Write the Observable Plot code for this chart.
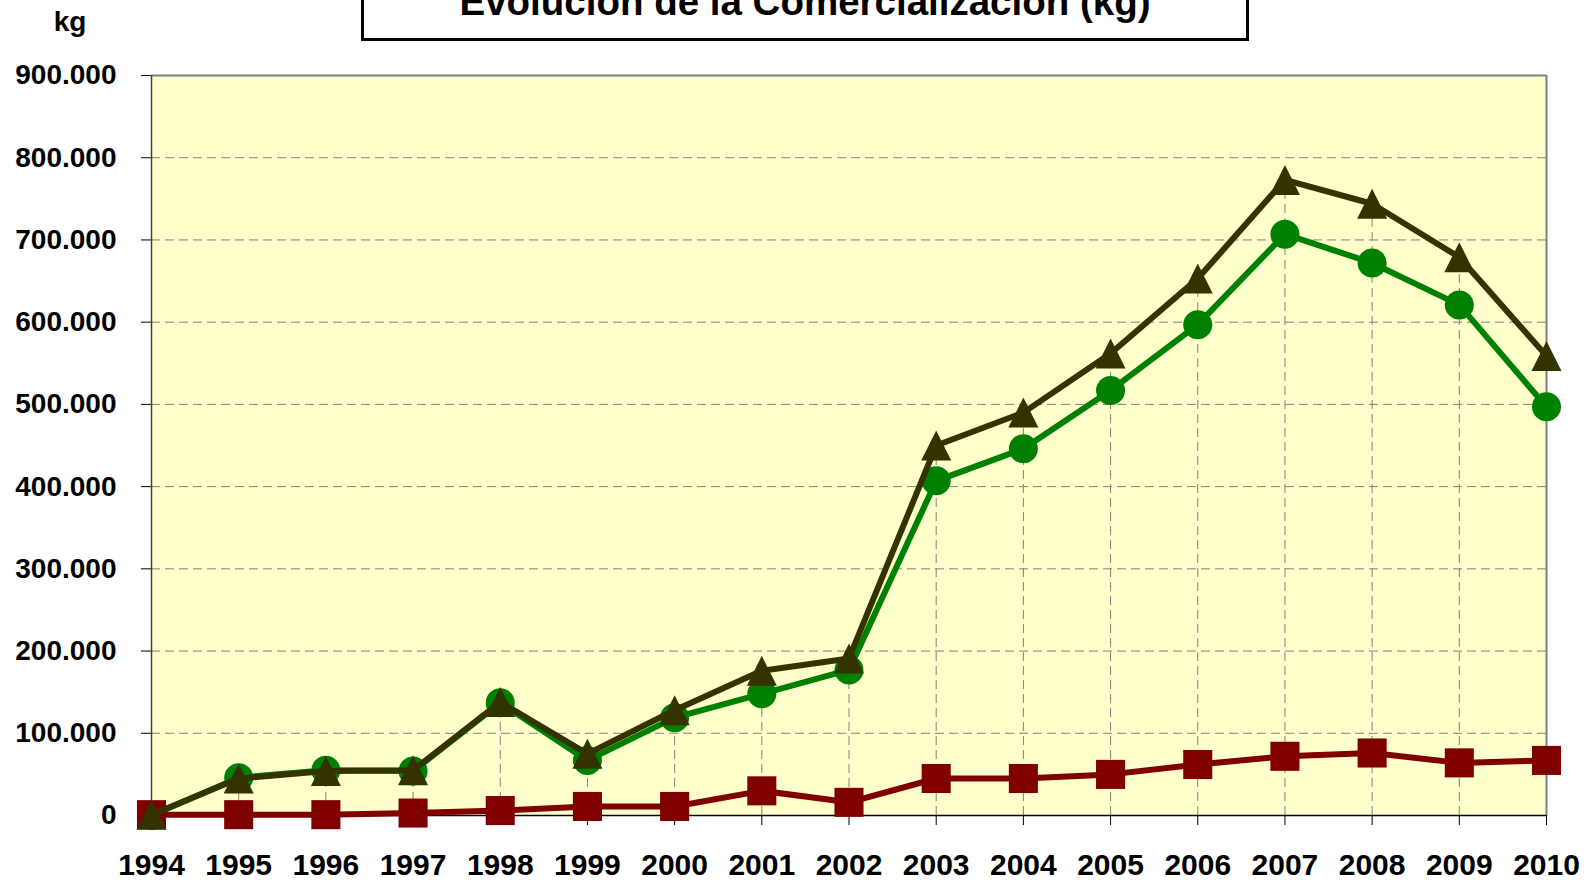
<!DOCTYPE html>
<html><head><meta charset="utf-8">
<script src="https://cdn.jsdelivr.net/npm/d3@7"></script>
<script src="https://cdn.jsdelivr.net/npm/@observablehq/plot@0.6"></script>
<style>
html,body{margin:0;padding:0;background:#fff;}
#wrap{position:relative;width:1592px;height:883px;overflow:hidden;font-family:"Liberation Sans",Arial,sans-serif;font-weight:bold;}
#wrap > svg{position:absolute;left:0;top:0;}
#overlay{pointer-events:none;}
</style>
</head>
<body>
<div id="wrap"></div>
<script>
// ---- data ----
const years = [1994,1995,1996,1997,1998,1999,2000,2001,2002,2003,2004,2005,2006,2007,2008,2009,2010];
const serieVerde = [0,46000,55000,54000,137000,67000,119000,148000,177000,407000,446000,517000,597000,707000,672000,621000,497000];
const serieRoja  = [1000,1000,1000,3000,6000,11000,11000,30000,16000,45000,45000,50000,62000,72000,76000,64000,67000];
const serieTotal = [1000,45000,54000,55000,138000,75000,128000,176000,191000,450000,490000,562000,653000,773000,744000,679000,559000];
const yTicks = [0,100000,200000,300000,400000,500000,600000,700000,800000,900000];
const gridTicks = [100000,200000,300000,400000,500000,600000,700000,800000];
const titulo = "Evolución de la Comercialización (kg)";
const unidad = "kg";

const rows = arr => years.map((y,i)=>({year:y, v:arr[i]}));
const verde = rows(serieVerde), roja = rows(serieRoja), total = rows(serieTotal);

const loc = d3.formatLocale({decimal:",", thousands:".", grouping:[3], currency:["","€"]});
const fmt = loc.format(",d");

const FONT = '"Liberation Sans", Arial, sans-serif';

// Excel-like triangle: base equal to height, centred on its bounding box
const triangulo = {
  draw(context, size) {
    const h = 2 * Math.sqrt(size / Math.PI);
    context.moveTo(0, -h / 2);
    context.lineTo(h / 2, h / 2);
    context.lineTo(-h / 2, h / 2);
    context.closePath();
  }
};

const chart = Plot.plot({
  width: 1592, height: 883,
  marginLeft: 151, marginRight: 46, marginTop: 75, marginBottom: 68,
  x: {domain: [1994, 2010]},
  y: {domain: [0, 900000]},
  style: {fontFamily: FONT, fontWeight: "bold", color: "#000", background: "transparent", overflow: "visible"},
  marks: [
    Plot.frame({fill: "#FFFFCC", stroke: null}),
    Plot.ruleY(gridTicks, {stroke: "#808080", strokeWidth: 1, strokeDasharray: "9,5"}),
    Plot.ruleX(total, {x: "year", y1: 0, y2: "v", stroke: "#808080", strokeWidth: 1, strokeDasharray: "9,5"}),
    Plot.ruleY([900000], {stroke: "#808080", strokeWidth: 2}),
    Plot.ruleX([2010], {stroke: "#808080", strokeWidth: 2}),
    Plot.axisY({ticks: yTicks, tickFormat: fmt, tickSize: 10, tickPadding: 25, fontSize: 28, label: null, stroke: "#000"}),
    Plot.axisX({ticks: years, tickFormat: d => String(d), tickSize: 10, tickPadding: 28, fontSize: 30, label: null, stroke: "#000"}),
    Plot.ruleX([1994], {stroke: "#404040", strokeWidth: 1.5}),
    Plot.ruleY([0], {stroke: "#000", strokeWidth: 1.5}),
    Plot.line(verde, {x: "year", y: "v", stroke: "#008000", strokeWidth: 6}),
    Plot.dot(verde, {x: "year", y: "v", symbol: "circle", r: 14.5, fill: "#008000", stroke: null}),
    Plot.line(roja, {x: "year", y: "v", stroke: "#800000", strokeWidth: 6}),
    Plot.dot(roja, {x: "year", y: "v", symbol: "square", r: 16.4, fill: "#800000", stroke: null}),
    Plot.line(total, {x: "year", y: "v", stroke: "#333300", strokeWidth: 6}),
    Plot.dot(total, {x: "year", y: "v", symbol: triangulo, r: 15, fill: "#333300", stroke: null})
  ]
});
document.getElementById("wrap").appendChild(chart);

// title box and unit label
const ov = d3.select("#wrap").append("svg").attr("id","overlay")
  .attr("width",1592).attr("height",883);
ov.append("rect").attr("x",362.5).attr("y",-40).attr("width",885).attr("height",79.5)
  .attr("fill","#fff").attr("stroke","#000").attr("stroke-width",3);
ov.append("text").attr("x",805).attr("y",15).attr("text-anchor","middle")
  .attr("font-family",FONT).attr("font-weight","bold").attr("font-size",38.5).text(titulo);
ov.append("text").attr("x",70).attr("y",31).attr("text-anchor","middle")
  .attr("font-family",FONT).attr("font-weight","bold").attr("font-size",28).text(unidad);
</script>
</body></html>
